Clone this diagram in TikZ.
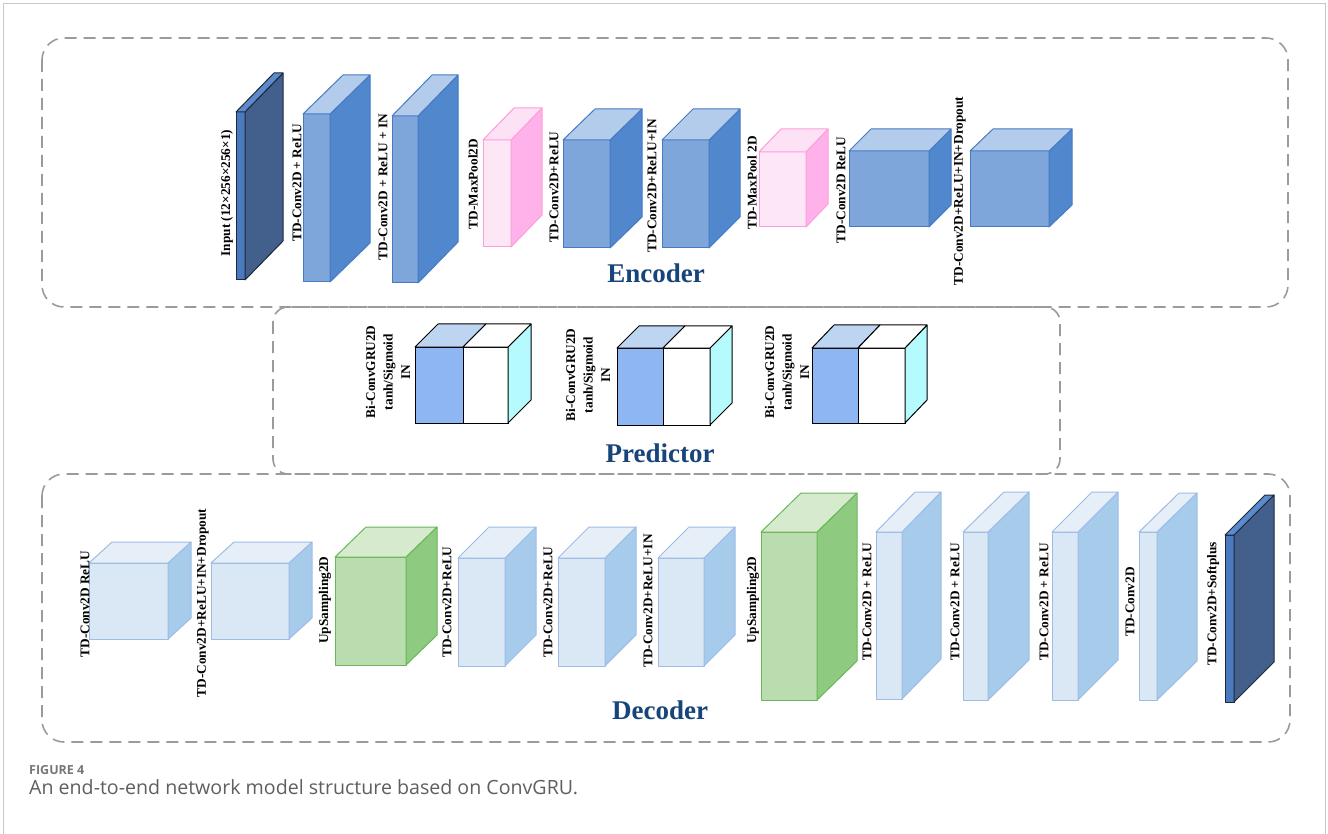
\documentclass[tikz,border=0pt]{standalone}
\usepackage{fontspec}
\setmainfont{Liberation Serif}
\newfontfamily\capfont{Open Sans}

% palette
\definecolor{slabF}{RGB}{74,122,190}
\definecolor{slabS}{RGB}{66,96,139}
\definecolor{slabT}{RGB}{92,138,205}
\definecolor{slabL}{RGB}{30,40,60}
\definecolor{encF}{RGB}{126,166,218}
\definecolor{encS}{RGB}{80,135,205}
\definecolor{encT}{RGB}{180,204,235}
\definecolor{encL}{RGB}{70,122,194}
\definecolor{poolF}{RGB}{253,230,246}
\definecolor{poolS}{RGB}{255,178,234}
\definecolor{poolT}{RGB}{253,226,246}
\definecolor{poolL}{RGB}{255,157,219}
\definecolor{gruF}{RGB}{141,182,243}
\definecolor{gruT}{RGB}{190,213,242}
\definecolor{gruS}{RGB}{181,250,253}
\definecolor{decF}{RGB}{218,231,245}
\definecolor{decS}{RGB}{166,203,235}
\definecolor{decT}{RGB}{230,238,248}
\definecolor{decL}{RGB}{157,189,230}
\definecolor{upF}{RGB}{186,221,176}
\definecolor{upS}{RGB}{142,203,128}
\definecolor{upT}{RGB}{214,235,206}
\definecolor{upL}{RGB}{107,182,90}
\definecolor{titleblue}{RGB}{23,69,122}
\definecolor{stagegray}{RGB}{155,155,155}
\definecolor{framegray}{RGB}{200,200,200}
\definecolor{capgray}{RGB}{95,95,95}

% cuboid: #1 colour family, #2 x1, #3 y1 (top), #4 x2, #5 y2 (bottom), #6 depth dx, #7 depth dy
\newcommand{\cuboid}[7]{%
  \filldraw[fill=#1F,draw=#1L,line width=1pt,line join=round] (#2,#3) rectangle (#4,#5);
  \filldraw[fill=#1S,draw=#1L,line width=1pt,line join=round]
    (#4,#3) -- (#4+#6,#3-#7) -- (#4+#6,#5-#7) -- (#4,#5) -- cycle;
  \filldraw[fill=#1T,draw=#1L,line width=1pt,line join=round]
    (#2,#3) -- (#2+#6,#3-#7) -- (#4+#6,#3-#7) -- (#4,#3) -- cycle;
}
% two-part recurrent block: #1 x1, #2 split x, #3 x2, #4 y1, #5 y2, #6 dx, #7 dy
\newcommand{\grucell}[7]{%
  \filldraw[fill=gruF,draw=black,line width=1pt] (#1,#4) rectangle (#2,#5);
  \filldraw[fill=white,draw=black,line width=1pt] (#2,#4) rectangle (#3,#5);
  \filldraw[fill=gruS,draw=black,line width=1pt,line join=round]
    (#3,#4) -- (#3+#6,#4-#7) -- (#3+#6,#5-#7) -- (#3,#5) -- cycle;
  \filldraw[fill=gruT,draw=black,line width=1pt,line join=round]
    (#1,#4) -- (#1+#6,#4-#7) -- (#2+#6,#4-#7) -- (#2,#4) -- cycle;
  \filldraw[fill=white,draw=black,line width=1pt,line join=round]
    (#2,#4) -- (#2+#6,#4-#7) -- (#3+#6,#4-#7) -- (#3,#4) -- cycle;
}

\begin{document}
\begin{tikzpicture}[x=1pt,y=-1pt,
  lbl/.style={rotate=90,font=\fontsize{13.3}{15}\selectfont\bfseries,inner sep=0pt},
  lblthree/.style={lbl,align=center,font=\fontsize{13.3}{17.5}\selectfont\bfseries},
  stagetitle/.style={font=\fontsize{27}{30}\selectfont\bfseries,text=titleblue,inner sep=0pt},
  stage/.style={draw=stagegray,line width=1.6pt,dash pattern=on 12pt off 7pt,rounded corners=22pt},
  capstyle/.style={anchor=base west,inner sep=0pt,text=capgray}]
\useasboundingbox (0,0) rectangle (1328,834);
\fill[white] (0,0) rectangle (1328,834);
\draw[framegray,line width=1pt] (3.5,834) -- (3.5,3.5) -- (1325.5,3.5) -- (1325.5,834);

% stage frames
\draw[stage] (42,38) rectangle (1288,307);
\draw[stage,rounded corners=15pt] (273,307) rectangle (1060,474);
\draw[stage] (42,474) rectangle (1290,742);

% ---- encoder ----
\cuboid{slab}{236}{112}{245}{280}{38}{39}
\cuboid{enc}{303}{114}{330}{282}{40}{39}
\cuboid{enc}{392}{116}{418}{283}{40}{41}
\cuboid{pool}{483}{140}{511}{247}{31}{32}
\cuboid{enc}{563}{140}{610}{248}{32}{31}
\cuboid{enc}{662}{140}{709}{248}{31}{31}
\cuboid{pool}{759}{152}{806}{227}{22}{23}
\cuboid{enc}{849}{151}{929}{227}{22}{22}
\cuboid{enc}{970}{151}{1049}{227}{23}{22}

\node[lbl] (e0) at (227,193) {Input (12×256×256×1)};
\node[lbl] (e1) at (297,183) {TD-Conv2D + ReLU};
\node[lbl] (e2) at (383,187) {TD-Conv2D + ReLU + IN};
\node[lbl] (e3) at (473,184) {TD-MaxPool2D};
\node[lbl] (e4) at (554,187) {TD-Conv2D+ReLU};
\node[lbl] (e5) at (652,186) {TD-Conv2D+ReLU+IN};
\node[lbl] (e6) at (752,183) {TD-MaxPool 2D};
\node[lbl] (e7) at (841,190) {TD-Conv2D ReLU};
\node[lbl] (e8) at (960,191) {TD-Conv2D+ReLU+IN+Dropout};
\node[stagetitle] (enc) at (656,273) {Encoder};

% ---- predictor ----
\grucell{415}{463}{508}{347}{423}{23}{23}
\grucell{617}{663}{710}{348}{425}{22}{22}
\grucell{812}{858}{905}{348}{423}{22}{23}
\node[lblthree] (p1) at (388,372) {Bi-ConvGRU2D\\tanh/Sigmoid\\IN};
\node[lblthree] (p2) at (588,375) {Bi-ConvGRU2D\\tanh/Sigmoid\\IN};
\node[lblthree] (p3) at (787,372) {Bi-ConvGRU2D\\tanh/Sigmoid\\IN};
\node[stagetitle] (pred) at (660,453) {Predictor};

% ---- decoder ----
\cuboid{dec}{89}{563}{168}{639}{23}{21}
\cuboid{dec}{211}{563}{289}{639}{23}{21}
\cuboid{up}{335}{557}{406}{665}{31}{30}
\cuboid{dec}{458}{558}{505}{666}{31}{31}
\cuboid{dec}{558}{558}{605}{666}{31}{31}
\cuboid{dec}{658}{558}{704}{666}{31}{31}
\cuboid{up}{761}{532}{817}{700}{40}{39}
\cuboid{dec}{876}{532}{902}{699}{39}{40}
\cuboid{dec}{963}{532}{988}{700}{41}{40}
\cuboid{dec}{1052}{532}{1078}{700}{40}{40}
\cuboid{dec}{1139}{532}{1157}{700}{40}{39}
\cuboid{slab}{1225}{535}{1234}{702}{40}{40}

\node[lbl] (d1) at (85,604) {TD-Conv2D ReLU};
\node[lbl] (d2) at (203,603) {TD-Conv2D+ReLU+IN+Dropout};
\node[lbl] (d3) at (325,600) {UpSampling2D};
\node[lbl] (d4) at (447,602) {TD-Conv2D+ReLU};
\node[lbl] (d5) at (548,602) {TD-Conv2D+ReLU};
\node[lbl] (d6) at (648,601) {TD-Conv2D+ReLU+IN};
\node[lbl] (d7) at (753,600) {UpSampling2D};
\node[lbl] (d8) at (867,602) {TD-Conv2D + ReLU};
\node[lbl] (d9) at (955,602) {TD-Conv2D + ReLU};
\node[lbl] (d10) at (1044,602) {TD-Conv2D + ReLU};
\node[lbl] (d11) at (1130,602) {TD-Conv2D};
\node[lbl] (d12) at (1213,604) {TD-Conv2D+Softplus};
\node[stagetitle] (dec) at (660,710) {Decoder};

% ---- caption ----
\node[capstyle,font=\capfont\bfseries\fontsize{12.5}{14}\selectfont,text=capgray!85] (fig) at (29,774) {FIGURE 4};
\node[capstyle,font=\capfont\fontsize{19.6}{22}\selectfont] (cap) at (29,794) {An end-to-end network model structure based on ConvGRU.};
\end{tikzpicture}
\end{document}
